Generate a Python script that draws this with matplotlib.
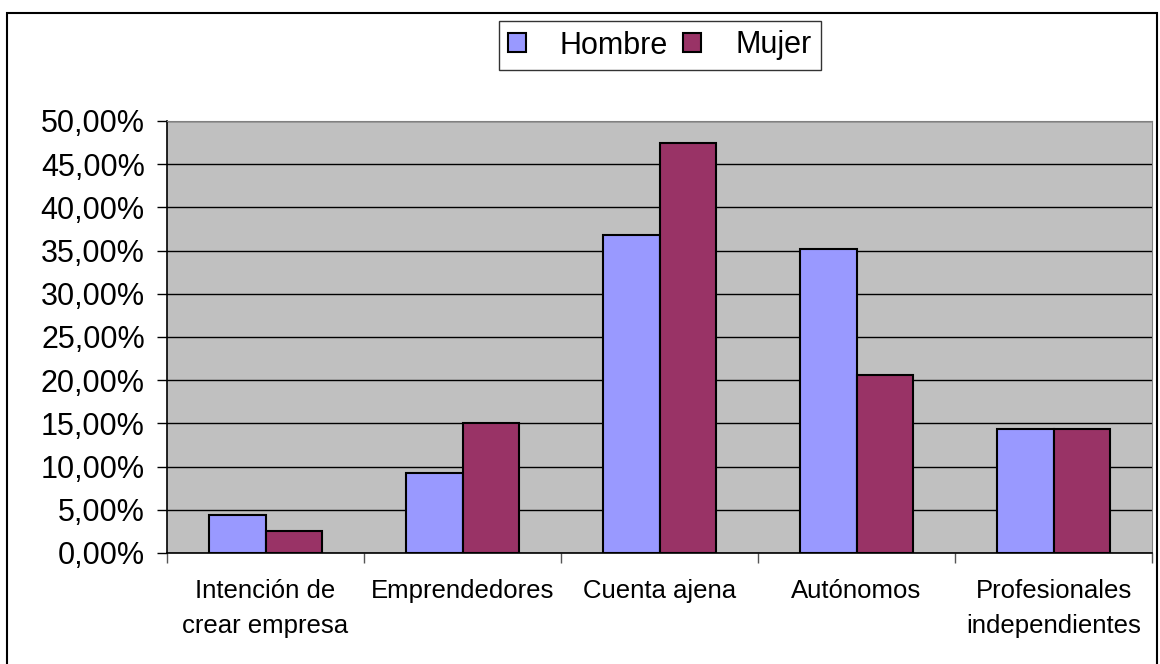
import matplotlib.pyplot as plt
import numpy as np
from matplotlib.patches import Rectangle

plt.rcParams['font.family'] = ['Liberation Sans', 'DejaVu Sans']

categorias = ['Intención de\ncrear empresa', 'Emprendedores', 'Cuenta ajena',
              'Autónomos', 'Profesionales\nindependientes']
hombre = [4.43, 9.25, 36.78, 35.2, 14.34]
mujer = [2.54, 15.03, 47.46, 20.59, 14.34]
y_ticks = [0, 5, 10, 15, 20, 25, 30, 35, 40, 45, 50]

fig = plt.figure(figsize=(11.6, 6.64), dpi=100)
ax = fig.add_axes([167 / 1160, 1 - 553 / 664, (1152 - 167) / 1160, (553 - 121) / 664])

# outer frame of the chart
fig.patches.append(Rectangle((7 / 1160, -0.01), (1157 - 7) / 1160, 1 - 13 / 664 + 0.01,
                             transform=fig.transFigure, fill=False,
                             edgecolor='black', linewidth=1.5))

x = np.arange(len(categorias))
w = 1 / 3.5
ax.bar(x - w / 2, hombre, w, color='#9999FF', edgecolor='black', linewidth=1.5,
       label='Hombre', zorder=3)
ax.bar(x + w / 2, mujer, w, color='#993366', edgecolor='black', linewidth=1.5,
       label='Mujer', zorder=3)

ax.set_facecolor('#C0C0C0')
ax.set_xlim(-0.5, len(categorias) - 0.5)
ax.set_ylim(0, 50)
ax.set_yticks(y_ticks)
ax.set_yticklabels([f'{v:.2f}%'.replace('.', ',') for v in y_ticks], fontsize=22)
ax.yaxis.grid(True, color='black', linewidth=1.0, zorder=1)
ax.set_axisbelow(True)

# category boundary ticks, labels centred between them
ax.set_xticks(np.arange(len(categorias) + 1) - 0.5)
ax.set_xticklabels([])
ax.set_xticks(x, minor=True)
ax.set_xticklabels(categorias, minor=True, fontsize=18.5, linespacing=1.55)
ax.tick_params(axis='x', which='minor', length=0, pad=19)
ax.tick_params(axis='x', which='major', length=7, width=1, color='#555555')
ax.tick_params(axis='y', length=7, width=1, pad=9)

ax.spines['top'].set_color('#808080')
ax.spines['right'].set_color('#808080')
ax.spines['left'].set_linewidth(1.2)
ax.spines['bottom'].set_linewidth(1.2)

leg = fig.legend(loc='center', bbox_to_anchor=(659.5 / 1160, 1 - 45.5 / 664), ncol=2,
                 fontsize=22, frameon=True, fancybox=False, edgecolor='black',
                 handlelength=0.6, handleheight=0.6, handletextpad=1.1,
                 columnspacing=0.5, borderpad=0.3)
leg.get_frame().set_linewidth(1.0)
for h in leg.legend_handles:
    h.set_linewidth(1.5)

fig.savefig('out.png', dpi=100)
